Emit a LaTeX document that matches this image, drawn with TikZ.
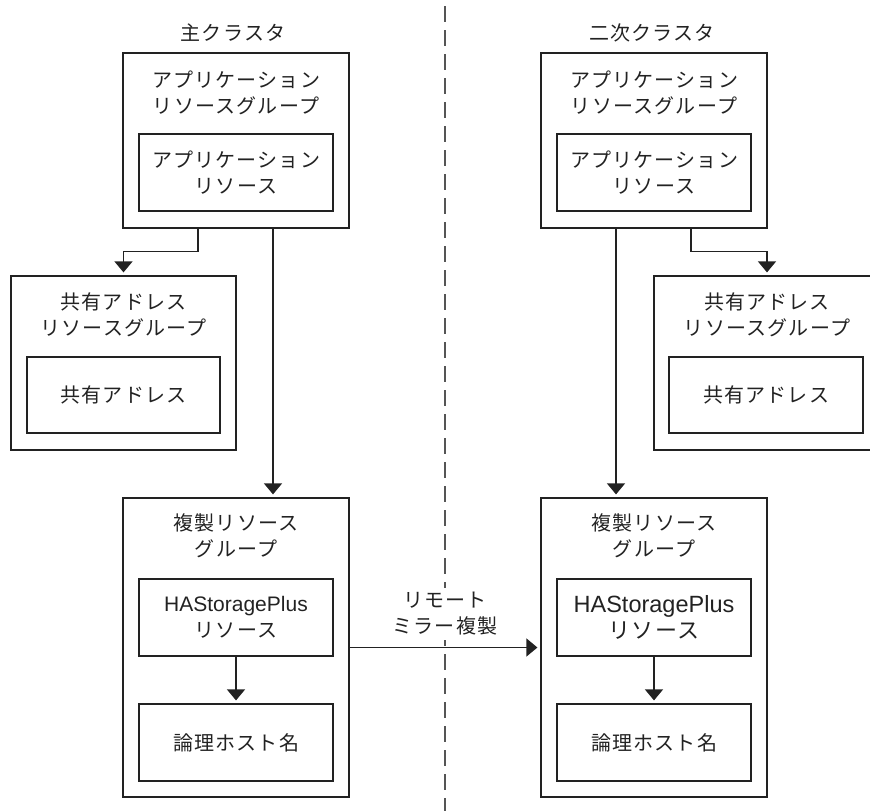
\documentclass[tikz,border=0pt]{standalone}
\usepackage{fontspec}
\setmainfont{Noto Sans CJK JP}[LetterSpace=6]
\newfontfamily\lat{Liberation Sans}
\usetikzlibrary{arrows.meta}
\definecolor{lc}{HTML}{222222}
\definecolor{dc}{HTML}{555555}
\begin{document}
\begin{tikzpicture}[x=1pt,y=-1pt,
  box/.style={draw=lc,line width=1.2pt,inner sep=0pt},
  txt/.style={align=center,font=\fontsize{20}{26}\selectfont,inner sep=0pt,text=lc},
  arr/.style={draw=lc,line width=1.2pt,shorten >=3pt,-{Triangle[width=18pt,length=11pt]}},
  ]
\clip (0,0) rectangle (870,811);
\draw[dc,line width=1.3pt,dash pattern=on 16pt off 8pt] (445,6) -- (445,811);

% primary cluster
\node[txt] (t1) at (233,33) {主クラスタ};
\node[box,minimum width=226pt,minimum height=175pt] (agL) at (236,140.5) {};
\node[txt] (agLt) at (236,92.5) {アプリケーション\\リソースグループ};
\node[box,txt,minimum width=194pt,minimum height=77pt] (arL) at (236,172.5) {アプリケーション\\リソース};

\node[box,minimum width=225pt,minimum height=174pt] (sgL) at (123.5,363) {};
\node[txt] (sgLt) at (123.5,315) {共有アドレス\\リソースグループ};
\node[box,txt,minimum width=193pt,minimum height=76pt] (saL) at (123.5,395) {共有アドレス};

\node[box,minimum width=226pt,minimum height=299pt] (rgL) at (236,647.5) {};
\node[txt] (rgLt) at (236,536) {複製リソース\\グループ};
\node[box,txt,minimum width=194pt,minimum height=77pt] (hsL) at (236,617.5) {{\lat\fontsize{21}{26}\selectfont HAStoragePlus}\\リソース};
\node[box,txt,minimum width=194pt,minimum height=77pt] (lhL) at (236,742.5) {論理ホスト名};

% secondary cluster
\node[txt] (t2) at (652,33) {二次クラスタ};
\node[box,minimum width=226pt,minimum height=175pt] (agR) at (654,140.5) {};
\node[txt] (agRt) at (654,92.5) {アプリケーション\\リソースグループ};
\node[box,txt,minimum width=194pt,minimum height=77pt] (arR) at (654,172.5) {アプリケーション\\リソース};

\node[box,minimum width=226pt,minimum height=174pt] (sgR) at (767,363) {};
\node[txt] (sgRt) at (767,315) {共有アドレス\\リソースグループ};
\node[box,txt,minimum width=194pt,minimum height=76pt] (saR) at (766,395) {共有アドレス};

\node[box,minimum width=226pt,minimum height=299pt] (rgR) at (654,647.5) {};
\node[txt] (rgRt) at (654,536) {複製リソース\\グループ};
\node[box,txt,minimum width=194pt,minimum height=77pt] (hsR) at (654,617.5) {{\lat\fontsize{23.5}{28}\selectfont HAStoragePlus}\\{\fontsize{22}{28}\selectfont リソース}};
\node[box,txt,minimum width=194pt,minimum height=77pt] (lhR) at (654,742.5) {論理ホスト名};

% label
\node[txt,fill=white,inner sep=4pt] (rm) at (445,614) {リモート\\ミラー複製};

% connectors
\draw[arr] ([xshift=-38pt]agL.south) -- ++(0,23) -| (sgL.north);
\draw[arr] ([xshift=37pt]agL.south) -- ([xshift=37pt]rgL.north);
\draw[arr] (hsL.south) -- (lhL.north);
\draw[arr] (rgL.east) -- (rgR.west);
\draw[arr] ([xshift=-38pt]agR.south) -- ([xshift=-38pt]rgR.north);
\draw[arr] ([xshift=37pt]agR.south) -- ++(0,23) -| (sgR.north);
\draw[arr] (hsR.south) -- (lhR.north);
\end{tikzpicture}
\end{document}
